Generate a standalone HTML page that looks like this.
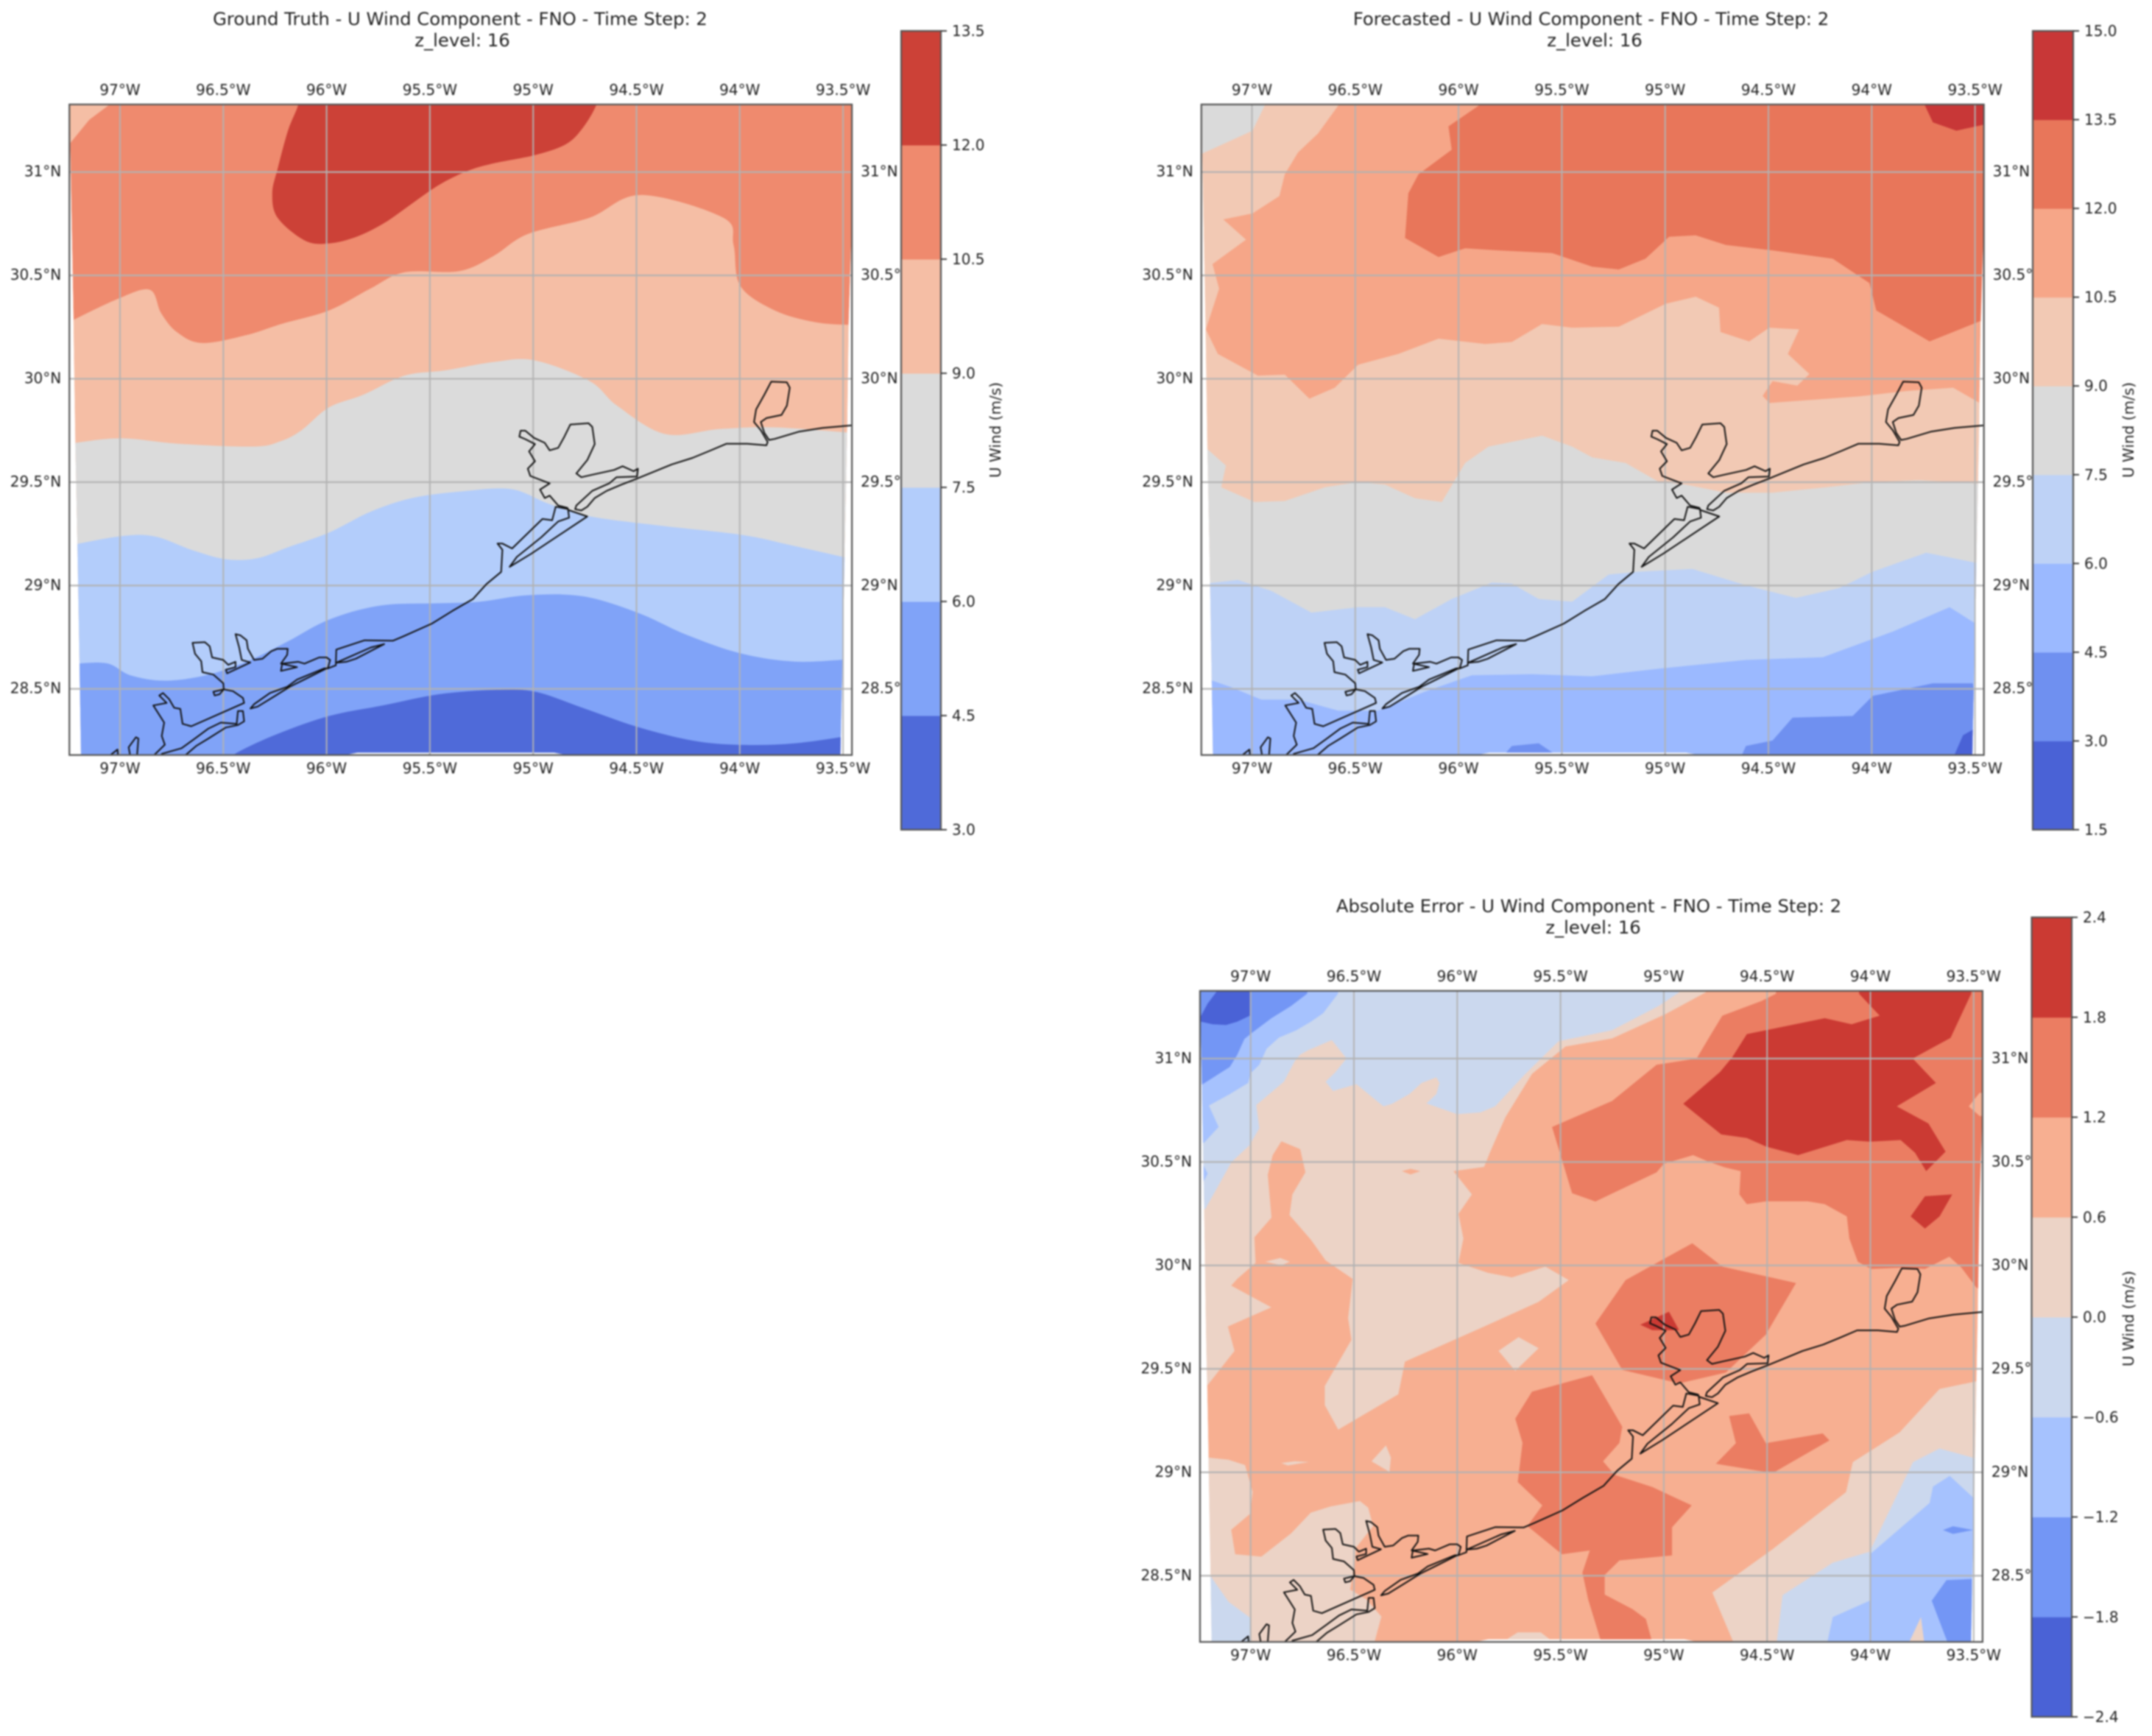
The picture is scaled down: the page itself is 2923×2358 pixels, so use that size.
<!DOCTYPE html>
<html lang="en">
<head>
<meta charset="utf-8">
<title>U Wind Component - FNO - Time Step 2</title>
<style>
html,body{margin:0;padding:0;background:#fff;}
#figure{display:block;width:2923px;height:2358px;filter:blur(1.15px);}
text{font-family:"DejaVu Sans","Liberation Sans",sans-serif;fill:#222222;}
.tick{font-size:20px;}
.title{font-size:24.3px;text-anchor:middle;}
</style>
</head>
<body>
<svg id="figure" xmlns="http://www.w3.org/2000/svg" width="2923" height="2358" viewBox="0 0 2923 2358">
<rect x="0" y="0" width="2923" height="2358" fill="#ffffff"/>
<text class="title" x="625" y="34">Ground Truth - U Wind Component - FNO - Time Step: 2</text>
<text class="title" x="628" y="63">z_level: 16</text>
<text class="title" x="2161" y="34">Forecasted - U Wind Component - FNO - Time Step: 2</text>
<text class="title" x="2166" y="63">z_level: 16</text>
<text class="title" x="2158" y="1239">Absolute Error - U Wind Component - FNO - Time Step: 2</text>
<text class="title" x="2164" y="1268">z_level: 16</text>
</svg>
<script>
// ---------- shared axis values ----------
const lonTicks = [-97, -96.5, -96, -95.5, -95, -94.5, -94, -93.5];
const lonTickLabels = ['97°W', '96.5°W', '96°W', '95.5°W', '95°W', '94.5°W', '94°W', '93.5°W'];
const latTicks = [31, 30.5, 30, 29.5, 29, 28.5];
const latTickLabels = ['31°N', '30.5°N', '30°N', '29.5°N', '29°N', '28.5°N'];
const latTickLabelsRight = ['31°N', '30.5°', '30°N', '29.5°', '29°N', '28.5°'];
const colorbarTitle = 'U Wind (m/s)';

// data domain outline (lon, lat)
const domainOutline = [[-97.245,31.33],[-93.456,31.33],[-93.456,30.8],[-93.473,30.26],[-93.48,29.77],[-93.493,29.12],[-93.503,28.64],[-93.513,28.183],[-94.85,28.183],[-94.9,28.192],[-95.85,28.192],[-95.9,28.183],[-97.189,28.183],[-97.196,28.62],[-97.206,29.19],[-97.216,29.68],[-97.225,30.27]];

// ---------- coastline (lon, lat) ----------
const coastMain = [[-93.456,29.775],[-93.599,29.762],[-93.715,29.744],[-93.831,29.709],[-93.858,29.704],[-93.881,29.738],[-93.898,29.791],[-93.871,29.81],[-93.798,29.825],[-93.772,29.87],[-93.758,29.957],[-93.772,29.983],[-93.848,29.986],[-93.881,29.923],[-93.921,29.852],[-93.931,29.791],[-93.898,29.751],[-93.865,29.694],[-93.871,29.678],[-93.964,29.686],[-94.064,29.686],[-94.147,29.651],[-94.229,29.617],[-94.329,29.586],[-94.385,29.563],[-94.503,29.515],[-94.573,29.488],[-94.644,29.458],[-94.702,29.423],[-94.738,29.381],[-94.767,29.363],[-94.797,29.369],[-94.791,29.387],[-94.714,29.458],[-94.632,29.494],[-94.597,29.524],[-94.497,29.527],[-94.493,29.565],[-94.514,29.553],[-94.567,29.577],[-94.608,29.559],[-94.714,29.536],[-94.767,29.524],[-94.791,29.542],[-94.738,29.607],[-94.702,29.684],[-94.714,29.767],[-94.732,29.785],[-94.82,29.779],[-94.849,29.72],[-94.879,29.666],[-94.92,29.654],[-94.944,29.69],[-94.996,29.714],[-95.038,29.749],[-95.061,29.749],[-95.067,29.72],[-95.038,29.708],[-94.991,29.684],[-95.02,29.649],[-94.991,29.601],[-95.026,29.565],[-95.014,29.53],[-94.92,29.494],[-94.967,29.464],[-94.944,29.423],[-94.92,29.435],[-94.879,29.387],[-94.832,29.375]];
const coastGalveston = [[-94.832,29.375],[-94.826,29.328],[-94.879,29.31],[-94.961,29.233],[-95.079,29.138],[-95.114,29.09],[-95.008,29.155],[-94.738,29.334],[-94.832,29.366]];
const coastWest = [[-94.832,29.37],[-94.891,29.381],[-94.908,29.316],[-94.955,29.322],[-95.102,29.179],[-95.149,29.203],[-95.173,29.203],[-95.149,29.173],[-95.155,29.066],[-95.226,29.007],[-95.291,28.935],[-95.391,28.877],[-95.49,28.816],[-95.631,28.753],[-95.679,28.733],[-95.816,28.735],[-95.953,28.69],[-95.955,28.626],[-95.955,28.614],[-95.994,28.599],[-95.983,28.64],[-96.0,28.652],[-96.036,28.652],[-96.107,28.622],[-96.137,28.631],[-96.215,28.622],[-96.221,28.587],[-96.143,28.605],[-96.221,28.622],[-96.191,28.664],[-96.188,28.694],[-96.238,28.694],[-96.268,28.682],[-96.31,28.646],[-96.351,28.64],[-96.381,28.694],[-96.387,28.735],[-96.417,28.759],[-96.441,28.765],[-96.423,28.7],[-96.411,28.64],[-96.369,28.628],[-96.482,28.575],[-96.488,28.593],[-96.441,28.605],[-96.441,28.631],[-96.476,28.616],[-96.5,28.64],[-96.554,28.652],[-96.566,28.706],[-96.589,28.726],[-96.649,28.723],[-96.637,28.67],[-96.607,28.634],[-96.601,28.581],[-96.548,28.569],[-96.5,28.527],[-96.498,28.498],[-96.548,28.486],[-96.542,28.468],[-96.518,28.474],[-96.498,28.498],[-96.453,28.489],[-96.405,28.456],[-96.399,28.432],[-96.655,28.319],[-96.697,28.331],[-96.708,28.403],[-96.738,28.409],[-96.762,28.45],[-96.792,28.48],[-96.81,28.468],[-96.774,28.432],[-96.839,28.42],[-96.786,28.337],[-96.798,28.272],[-96.783,28.23],[-96.845,28.17]];
const coastMatagordaLens = [[-95.955,28.626],[-95.905,28.631],[-95.858,28.646],[-95.721,28.717],[-95.786,28.7],[-95.923,28.64],[-95.955,28.626]];
const coastIslandLens = [[-95.994,28.599],[-96.012,28.599],[-96.143,28.545],[-96.191,28.51],[-96.274,28.48],[-96.351,28.426],[-96.369,28.405],[-96.334,28.414],[-96.256,28.462],[-96.179,28.51],[-96.084,28.557],[-96.0,28.599]];
const coastSanJose = [[-96.798,28.17],[-96.798,28.186],[-96.702,28.213],[-96.637,28.26],[-96.572,28.308],[-96.512,28.337],[-96.435,28.331],[-96.429,28.393],[-96.405,28.393],[-96.399,28.343],[-96.429,28.325],[-96.488,28.313],[-96.572,28.26],[-96.631,28.224],[-96.679,28.183],[-96.7,28.17]];
const coastIslet = [[-96.952,28.17],[-96.952,28.183],[-96.958,28.218],[-96.923,28.266],[-96.911,28.26],[-96.917,28.183],[-96.917,28.17]];
const coastTip = [[-97.042,28.17],[-97.042,28.183],[-97.012,28.207],[-97.01,28.183],[-97.01,28.17]];
const coastLines = [coastMain, coastGalveston, coastWest, coastMatagordaLens, coastIslandLens, coastSanJose, coastIslet, coastTip];

// ---------- ground truth ----------
const gtLevels = [3.0, 4.5, 6.0, 7.5, 9.0, 10.5, 12.0, 13.5];
const gtLevelLabels = ['3.0','4.5','6.0','7.5','9.0','10.5','12.0','13.5'];
const gtColors = ['#4f6ad9','#80a3f8','#b3cdfb','#dbdbdb','#f5bea5','#ef8a6e','#cc4137'];
const gtCorner = [[-97.3,31.4],[-97.05,31.4],[-97.05,31.327],[-97.149,31.253],[-97.246,31.134],[-97.3,31.1]];
const gtPeak = [[-96.137,31.4],[-96.137,31.327],[-96.187,31.2],[-96.237,31.016],[-96.263,30.897],[-96.237,30.779],[-96.104,30.668],[-95.988,30.655],[-95.855,30.687],[-95.723,30.752],[-95.59,30.845],[-95.457,30.937],[-95.324,31.003],[-95.192,31.042],[-94.993,31.082],[-94.843,31.134],[-94.76,31.213],[-94.694,31.327],[-94.694,31.4]];
const gtContour105 = [[-97.249,30.273],[-97.017,30.384],[-96.857,30.431],[-96.801,30.318],[-96.725,30.226],[-96.602,30.173],[-96.386,30.212],[-96.22,30.265],[-95.988,30.331],[-95.789,30.436],[-95.623,30.515],[-95.358,30.521],[-95.192,30.594],[-95.026,30.7],[-94.727,30.779],[-94.478,30.889],[-94.08,30.779],[-94.03,30.647],[-93.997,30.449],[-93.831,30.331],[-93.632,30.273],[-93.45,30.26]];
const gtContour90 = [[-97.249,29.686],[-97.0,29.712],[-96.718,29.686],[-96.353,29.672],[-96.22,29.699],[-96.121,29.751],[-95.988,29.862],[-95.822,29.923],[-95.623,30.015],[-95.424,30.041],[-95.192,30.081],[-94.993,30.089],[-94.727,29.989],[-94.594,29.87],[-94.362,29.733],[-94.097,29.757],[-93.831,29.765],[-93.45,29.738]];
const gtContour75 = [[-97.249,29.193],[-97.0,29.238],[-96.834,29.238],[-96.652,29.172],[-96.486,29.127],[-96.336,29.132],[-96.187,29.185],[-95.988,29.256],[-95.789,29.356],[-95.59,29.422],[-95.358,29.454],[-95.109,29.467],[-94.926,29.396],[-94.727,29.335],[-94.395,29.291],[-93.997,29.246],[-93.765,29.198],[-93.45,29.127]];
const gtContour60 = [[-97.249,28.619],[-97.066,28.624],[-96.95,28.566],[-96.784,28.54],[-96.585,28.566],[-96.386,28.632],[-96.187,28.73],[-95.988,28.835],[-95.739,28.903],[-95.457,28.914],[-95.258,28.922],[-95.026,28.953],[-94.76,28.948],[-94.495,28.869],[-94.263,28.764],[-93.997,28.672],[-93.732,28.632],[-93.45,28.645]];
const gtContour45 = [[-96.5,28.12],[-96.453,28.18],[-96.253,28.276],[-95.988,28.369],[-95.723,28.421],[-95.457,28.474],[-95.192,28.495],[-94.993,28.487],[-94.76,28.408],[-94.495,28.316],[-94.229,28.25],[-93.997,28.229],[-93.732,28.237],[-93.45,28.276]];
const gtBaseBand = 5;

// ---------- forecast ----------
const fcLevels = [1.5, 3.0, 4.5, 6.0, 7.5, 9.0, 10.5, 12.0, 13.5, 15.0];
const fcLevelLabels = ['1.5','3.0','4.5','6.0','7.5','9.0','10.5','12.0','13.5','15.0'];
const fcColors = ['#4a62d6','#6f90f0','#9bb9ff','#bed2f6','#dadada','#f2c9b4','#f6a688','#e8765a','#c83737'];
const fcContour90Upper = [[-96.583,31.4],[-96.583,31.321],[-96.68,31.187],[-96.777,31.095],[-96.841,30.989],[-96.867,30.884],[-96.997,30.8],[-97.139,30.771],[-97.029,30.673],[-97.191,30.555],[-97.159,30.436],[-97.223,30.239],[-97.165,30.12],[-96.971,30.015],[-96.841,30.02],[-96.722,29.904],[-96.599,29.957],[-96.486,30.068],[-96.292,30.12],[-96.097,30.194],[-95.871,30.168],[-95.742,30.178],[-95.596,30.265],[-95.45,30.247],[-95.224,30.252],[-94.998,30.363],[-94.852,30.397],[-94.739,30.344],[-94.732,30.226],[-94.593,30.181],[-94.496,30.247],[-94.351,30.239],[-94.406,30.12],[-94.302,30.023],[-94.36,29.967],[-94.48,29.989],[-94.528,29.917],[-94.496,29.883],[-94.059,29.915],[-93.833,29.941],[-93.606,29.957],[-93.477,29.883],[-93.4,29.883],[-93.4,28.0],[-97.5,28.0],[-97.5,31.4]];
const fcGrayCorner = [[-97.3,31.4],[-96.939,31.4],[-96.939,31.321],[-96.997,31.2],[-97.246,31.087],[-97.3,31.06]];
const fcContour90Lower = [[-97.3,29.672],[-97.23,29.672],[-97.126,29.58],[-97.149,29.475],[-96.987,29.404],[-96.841,29.409],[-96.647,29.475],[-96.486,29.501],[-96.356,29.488],[-96.211,29.422],[-96.081,29.404],[-95.968,29.593],[-95.855,29.672],[-95.596,29.725],[-95.45,29.672],[-95.353,29.62],[-95.192,29.593],[-95.03,29.501],[-94.9,29.488],[-94.706,29.449],[-94.48,29.449],[-94.221,29.475],[-93.995,29.501],[-93.768,29.509],[-93.477,29.493],[-93.4,29.493]];
const fcContour75 = [[-97.3,29.009],[-97.23,29.009],[-97.068,29.027],[-96.906,28.974],[-96.712,28.869],[-96.486,28.895],[-96.356,28.895],[-96.211,28.837],[-96.033,28.935],[-95.839,29.014],[-95.742,29.009],[-95.612,28.935],[-95.45,28.922],[-95.273,29.053],[-95.127,29.067],[-94.868,29.08],[-94.609,29.001],[-94.367,28.94],[-94.156,28.988],[-93.995,29.067],[-93.736,29.159],[-93.477,29.106],[-93.4,29.106]];
const fcContour60 = [[-97.3,28.553],[-97.23,28.553],[-97.1,28.508],[-96.955,28.448],[-96.777,28.448],[-96.583,28.395],[-96.389,28.395],[-96.162,28.487],[-95.936,28.566],[-95.645,28.571],[-95.353,28.561],[-95.03,28.598],[-94.609,28.64],[-94.237,28.653],[-93.898,28.777],[-93.623,28.895],[-93.477,28.803],[-93.4,28.803]];
const fcPatch45East = [[-94.642,28.15],[-94.609,28.224],[-94.48,28.25],[-94.383,28.361],[-94.092,28.369],[-93.995,28.466],[-93.704,28.527],[-93.51,28.527],[-93.445,28.145]];
const fcPatch45South = [[-95.806,28.15],[-95.742,28.224],[-95.612,28.237],[-95.483,28.15]];
const fcPatch30 = [[-93.613,28.15],[-93.558,28.276],[-93.51,28.303],[-93.51,28.15]];
const fcPatch12 = [[-95.903,31.4],[-95.903,31.321],[-96.049,31.221],[-96.033,31.108],[-96.194,30.989],[-96.243,30.897],[-96.259,30.681],[-96.097,30.589],[-95.968,30.631],[-95.806,30.621],[-95.547,30.608],[-95.353,30.542],[-95.224,30.529],[-95.095,30.581],[-94.981,30.687],[-94.852,30.694],[-94.706,30.647],[-94.48,30.621],[-94.189,30.581],[-94.011,30.463],[-93.978,30.331],[-93.72,30.181],[-93.477,30.278],[-93.4,30.29],[-93.4,31.4]];
const fcPatch135 = [[-93.742,31.4],[-93.742,31.321],[-93.704,31.24],[-93.59,31.2],[-93.445,31.232],[-93.4,31.24],[-93.4,31.4]];
const fcBaseBand = 6;

// ---------- absolute error ----------
const aeLevels = [-2.4, -1.8, -1.2, -0.6, 0.0, 0.6, 1.2, 1.8, 2.4];
const aeLevelLabels = ['−2.4','−1.8','−1.2','−0.6','0.0','0.6','1.2','1.8','2.4'];
const aeColors = ['#4a62d6','#7396f5','#a6c2fe','#cbd8ee','#ecd3c6','#f7af91','#eb7d62','#cb3a33'];
const aeLightWest = [[-97.3,31.4],[-94.797,31.4],[-94.797,31.32],[-94.991,31.215],[-95.25,31.097],[-95.476,31.058],[-95.638,30.926],[-95.767,30.716],[-95.84,30.55],[-95.87,30.476],[-96.018,30.456],[-95.929,30.343],[-95.994,30.249],[-95.97,30.13],[-95.994,30.012],[-95.851,29.964],[-95.735,29.942],[-95.573,29.994],[-95.46,29.929],[-95.606,29.824],[-95.897,29.692],[-96.253,29.535],[-96.285,29.377],[-96.576,29.206],[-96.641,29.325],[-96.641,29.417],[-96.512,29.64],[-96.528,29.745],[-96.506,29.935],[-96.637,30.024],[-96.708,30.124],[-96.812,30.243],[-96.798,30.343],[-96.735,30.45],[-96.76,30.562],[-96.851,30.6],[-96.893,30.533],[-96.917,30.438],[-96.899,30.231],[-96.982,30.136],[-96.976,30.012],[-97.065,29.935],[-97.094,29.902],[-96.9,29.797],[-97.11,29.705],[-97.078,29.587],[-97.223,29.403],[-97.3,29.403]];
const aeLightSouthwest = [[-97.3,29.071],[-97.207,29.071],[-97.107,29.061],[-97.027,29.035],[-96.99,28.905],[-97.003,28.799],[-97.094,28.722],[-97.075,28.604],[-96.948,28.592],[-96.804,28.705],[-96.709,28.805],[-96.614,28.835],[-96.471,28.861],[-96.431,28.829],[-96.407,28.74],[-96.491,28.634],[-96.494,28.58],[-96.518,28.433],[-96.439,28.385],[-96.367,28.303],[-96.399,28.184],[-96.399,28.15],[-97.3,28.15]];
const aeNegSouthwest = [[-97.3,28.5],[-97.194,28.498],[-97.107,28.374],[-97.003,28.297],[-97.003,28.15],[-97.3,28.15]];
const aeLightA = [[-95.8,29.587],[-95.703,29.653],[-95.606,29.6],[-95.719,29.49]];
const aeLightB = [[-96.415,29.053],[-96.345,29.13],[-96.321,29.071],[-96.328,29.002]];
const aeLightC = [[-96.929,30.018],[-96.857,30.036],[-96.81,30.018],[-96.851,30.0]];
const aeLightD = [[-96.852,29.045],[-96.789,29.053],[-96.717,29.05],[-96.82,29.033]];
const aeOrangeSpeck = [[-96.268,30.456],[-96.226,30.467],[-96.179,30.456],[-96.226,30.44]];
const aeLightF = [[-95.76,28.15],[-95.755,28.196],[-95.707,28.226],[-95.596,28.226],[-95.548,28.19],[-95.54,28.15]];
const aeLightSoutheast = [[-93.471,29.443],[-93.665,29.403],[-93.859,29.193],[-94.085,29.049],[-94.118,28.904],[-94.473,28.629],[-94.765,28.419],[-94.651,28.15],[-93.4,28.15],[-93.4,29.443]];
const aeNegSoutheast = [[-94.457,28.15],[-94.425,28.406],[-94.182,28.563],[-94.004,28.616],[-93.794,29.049],[-93.665,29.115],[-93.471,29.062],[-93.4,29.062],[-93.4,28.15]];
const aeMidSoutheast = [[-94.215,28.15],[-94.182,28.3],[-94.004,28.379],[-94.004,28.602],[-93.713,28.852],[-93.697,28.931],[-93.616,28.983],[-93.503,28.878],[-93.45,28.85],[-93.45,28.15]];
const aeLightWedge = [[-93.826,28.15],[-93.755,28.3],[-93.736,28.15]];
const aeDeepSoutheast = [[-93.703,28.379],[-93.632,28.479],[-93.509,28.484],[-93.509,28.15],[-93.616,28.15]];
const aeDeepBlob = [[-93.649,28.721],[-93.6,28.739],[-93.503,28.721],[-93.6,28.702]];
const aeNegNorthwest = [[-97.3,30.272],[-97.22,30.272],[-97.101,30.485],[-97.089,30.503],[-97.006,30.58],[-96.958,30.663],[-96.973,30.775],[-96.839,30.888],[-96.786,30.988],[-96.762,31.018],[-96.72,31.041],[-96.607,31.089],[-96.536,31.0],[-96.589,30.935],[-96.637,30.888],[-96.601,30.843],[-96.488,30.876],[-96.357,30.769],[-96.315,30.781],[-96.232,30.828],[-96.173,30.882],[-96.101,30.909],[-96.086,30.882],[-96.101,30.828],[-96.149,30.783],[-96.0,30.731],[-95.887,30.74],[-95.816,30.769],[-95.67,30.926],[-95.509,31.084],[-95.25,31.137],[-95.023,31.255],[-94.926,31.32],[-94.926,31.4],[-97.3,31.4]];
const aeMidNorthwest = [[-96.577,31.4],[-96.577,31.314],[-96.649,31.219],[-96.708,31.178],[-96.78,31.136],[-96.863,31.101],[-96.923,31.047],[-96.958,30.97],[-97.0,30.929],[-97.012,30.882],[-97.101,30.828],[-97.202,30.773],[-97.155,30.669],[-97.226,30.592],[-97.3,30.592],[-97.3,31.4]];
const aeMidEdge = [[-97.232,30.491],[-97.208,30.444],[-97.226,30.408],[-97.3,30.408],[-97.3,30.491]];
const aeDeepNorthwest = [[-96.726,31.4],[-96.726,31.314],[-96.804,31.254],[-96.899,31.195],[-96.994,31.124],[-97.03,31.095],[-97.065,31.018],[-97.101,30.959],[-97.232,30.876],[-97.3,30.85],[-97.3,31.4]];
const aeDarkNorthwest = [[-97.3,31.2],[-97.24,31.207],[-97.208,31.266],[-97.167,31.32],[-97.167,31.4],[-97.004,31.4],[-97.004,31.207],[-97.065,31.178],[-97.119,31.162],[-97.185,31.166],[-97.24,31.178],[-97.3,31.178]];
const aeHighNortheast = [[-94.457,31.4],[-94.457,31.313],[-94.528,31.278],[-94.717,31.207],[-94.782,31.1],[-94.841,31.0],[-95.035,30.97],[-95.25,30.795],[-95.541,30.669],[-95.444,30.349],[-95.331,30.309],[-95.035,30.45],[-95.0,30.491],[-94.858,30.533],[-94.787,30.503],[-94.705,30.474],[-94.628,30.456],[-94.634,30.343],[-94.598,30.296],[-94.504,30.31],[-94.303,30.31],[-94.221,30.296],[-94.114,30.237],[-94.102,30.13],[-94.061,30.018],[-93.996,29.983],[-93.854,29.989],[-93.736,29.983],[-93.618,30.042],[-93.559,29.989],[-93.488,29.894],[-93.4,29.85],[-93.4,31.4]];
const aeNotchEast = [[-93.471,30.834],[-93.524,30.769],[-93.471,30.722],[-93.4,30.722],[-93.4,30.834]];
const aePeakNortheast = [[-94.055,31.4],[-94.055,31.313],[-93.955,31.207],[-94.091,31.166],[-94.221,31.195],[-94.598,31.118],[-94.669,31.006],[-94.728,30.935],[-94.906,30.781],[-94.722,30.633],[-94.598,30.616],[-94.504,30.574],[-94.35,30.533],[-94.114,30.606],[-94.002,30.598],[-93.854,30.606],[-93.784,30.545],[-93.73,30.456],[-93.636,30.55],[-93.719,30.686],[-93.872,30.769],[-93.683,30.882],[-93.795,31.0],[-93.612,31.1],[-93.512,31.313],[-93.512,31.4]];
const aePeakEast = [[-93.736,30.334],[-93.604,30.343],[-93.665,30.237],[-93.736,30.178],[-93.805,30.237]];
const aeHighCentral = [[-95.331,29.719],[-95.185,29.929],[-94.862,30.107],[-94.716,29.994],[-94.36,29.915],[-94.506,29.666],[-94.7,29.482],[-94.926,29.43],[-95.201,29.495]];
const aePeakBay = [[-95.114,29.713],[-94.975,29.776],[-94.926,29.687],[-95.056,29.687]];
const aeHighSouth = [[-95.719,29.259],[-95.638,29.39],[-95.347,29.469],[-95.201,29.22],[-95.215,29.142],[-95.294,29.053],[-95.238,28.988],[-95.056,28.929],[-94.865,28.84],[-94.96,28.734],[-94.96,28.598],[-95.215,28.574],[-95.286,28.504],[-95.286,28.409],[-95.151,28.338],[-95.087,28.291],[-95.048,28.15],[-95.294,28.15],[-95.366,28.385],[-95.394,28.515],[-95.358,28.622],[-95.493,28.604],[-95.66,28.74],[-95.588,28.84],[-95.707,28.953],[-95.684,29.142]];
const aeHighEast = [[-94.684,29.272],[-94.587,29.285],[-94.506,29.141],[-94.231,29.188],[-94.198,29.154],[-94.473,28.996],[-94.748,29.041],[-94.651,29.141]];
const aeBaseBand = 5;

// band index + outline per layer, in painting order
const gtLayers = [
  {band: 4, line: gtCorner},
  {band: 4, line: gtContour105, below: true, smooth: true},
  {band: 3, line: gtContour90, below: true, smooth: true},
  {band: 2, line: gtContour75, below: true, smooth: true},
  {band: 1, line: gtContour60, below: true, smooth: true},
  {band: 0, line: gtContour45, below: true, smooth: true},
  {band: 6, line: gtPeak, smooth: true}
];
const fcLayers = [
  {band: 5, line: fcContour90Upper},
  {band: 4, line: fcGrayCorner},
  {band: 7, line: fcPatch12},
  {band: 8, line: fcPatch135},
  {band: 4, line: fcContour90Lower, below: true},
  {band: 3, line: fcContour75, below: true},
  {band: 2, line: fcContour60, below: true},
  {band: 1, line: fcPatch45East},
  {band: 1, line: fcPatch45South},
  {band: 0, line: fcPatch30}
];
const aeLayers = [
  {band: 4, line: aeLightWest},
  {band: 4, line: aeLightSouthwest},
  {band: 3, line: aeNegSouthwest},
  {band: 4, line: aeLightA},
  {band: 4, line: aeLightB},
  {band: 5, line: aeLightC},
  {band: 4, line: aeLightC},
  {band: 4, line: aeLightD},
  {band: 5, line: aeOrangeSpeck},
  {band: 4, line: aeLightF},
  {band: 4, line: aeLightSoutheast},
  {band: 3, line: aeNegSoutheast},
  {band: 2, line: aeMidSoutheast},
  {band: 4, line: aeLightWedge},
  {band: 1, line: aeDeepSoutheast},
  {band: 1, line: aeDeepBlob},
  {band: 3, line: aeNegNorthwest},
  {band: 2, line: aeMidNorthwest},
  {band: 2, line: aeMidEdge},
  {band: 1, line: aeDeepNorthwest},
  {band: 0, line: aeDarkNorthwest},
  {band: 6, line: aeHighNortheast},
  {band: 5, line: aeNotchEast},
  {band: 7, line: aePeakNortheast},
  {band: 7, line: aePeakEast},
  {band: 6, line: aeHighCentral},
  {band: 7, line: aePeakBay},
  {band: 6, line: aeHighSouth},
  {band: 6, line: aeHighEast}
];

// ---------- figure layout ----------
const NS = 'http://www.w3.org/2000/svg';
const figure = document.getElementById('figure');
const lonMin = -97.245, lonMax = -93.457, latMax = 31.327, latMin = 28.18;

function node(tag, parent){
  const n = document.createElementNS(NS, tag);
  parent.appendChild(n);
  return n;
}
function pointsAttr(pts, sx, sy){
  return pts.map(function(p){ return sx(p[0]).toFixed(1) + ',' + sy(p[1]).toFixed(1); }).join(' ');
}
function layerPath(layer, sx, sy){
  const p = layer.line.map(function(q){ return [sx(q[0]), sy(q[1])]; });
  let d = 'M' + p[0][0].toFixed(1) + ' ' + p[0][1].toFixed(1);
  for (let i = 0; i < p.length - 1; i++){
    if (layer.smooth){
      const a = p[Math.max(i - 1, 0)], b = p[i], c = p[i + 1], e = p[Math.min(i + 2, p.length - 1)];
      const c1x = b[0] + (c[0] - a[0]) / 6, c1y = b[1] + (c[1] - a[1]) / 6;
      const c2x = c[0] - (e[0] - b[0]) / 6, c2y = c[1] - (e[1] - b[1]) / 6;
      d += 'C' + c1x.toFixed(1) + ' ' + c1y.toFixed(1) + ' ' + c2x.toFixed(1) + ' ' + c2y.toFixed(1) + ' ' + c[0].toFixed(1) + ' ' + c[1].toFixed(1);
    } else {
      d += 'L' + p[i + 1][0].toFixed(1) + ' ' + p[i + 1][1].toFixed(1);
    }
  }
  if (layer.below){
    d += 'L' + sx(-93.3).toFixed(1) + ' ' + p[p.length - 1][1].toFixed(1);
    d += 'L' + sx(-93.3).toFixed(1) + ' ' + sy(28.0).toFixed(1);
    d += 'L' + sx(-97.5).toFixed(1) + ' ' + sy(28.0).toFixed(1);
    d += 'L' + sx(-97.5).toFixed(1) + ' ' + p[0][1].toFixed(1);
  }
  return d + 'Z';
}

function drawPanel(cfg){
  const sx = function(lon){ return cfg.x97 + (lon + 97) * cfg.pxPerLon; };
  const sy = function(lat){ return cfg.y31 + (31 - lat) * cfg.pxPerLat; };

  const group = node('g', figure);
  
  

  const defs = node('defs', group);
  const clipDomain = node('clipPath', defs);
  clipDomain.setAttribute('id', cfg.name + '-domain-clip');
  const clipDomainShape = node('polygon', clipDomain);
  clipDomainShape.setAttribute('points', pointsAttr(domainOutline, sx, sy));
  const clipAxes = node('clipPath', defs);
  clipAxes.setAttribute('id', cfg.name + '-axes-clip');
  const clipAxesShape = node('rect', clipAxes);
  clipAxesShape.setAttribute('x', sx(lonMin));
  clipAxesShape.setAttribute('y', sy(latMax));
  clipAxesShape.setAttribute('width', sx(lonMax) - sx(lonMin));
  clipAxesShape.setAttribute('height', sy(latMin) - sy(latMax));

  const field = node('g', group);
  field.setAttribute('clip-path', 'url(#' + cfg.name + '-domain-clip)');
  
  

  const base = node('polygon', field);
  base.setAttribute('points', pointsAttr(domainOutline, sx, sy));
  base.setAttribute('fill', cfg.colors[cfg.baseBand]);
  
  

  cfg.layers.forEach(function(layer){
    const shape = node('path', field);
    shape.setAttribute('d', layerPath(layer, sx, sy));
    shape.setAttribute('fill', cfg.colors[layer.band]);
    
    
  });

  const grid = node('g', group);
  
  
  lonTicks.forEach(function(lon){
    const line = node('line', grid);
    line.setAttribute('x1', sx(lon));
    line.setAttribute('x2', sx(lon));
    line.setAttribute('y1', sy(latMax));
    line.setAttribute('y2', sy(latMin));
    line.setAttribute('stroke', '#b2b2b2');
    line.setAttribute('stroke-width', '1.9');
    
    
  });
  latTicks.forEach(function(lat){
    const line = node('line', grid);
    line.setAttribute('x1', sx(lonMin));
    line.setAttribute('x2', sx(lonMax));
    line.setAttribute('y1', sy(lat));
    line.setAttribute('y2', sy(lat));
    line.setAttribute('stroke', '#b2b2b2');
    line.setAttribute('stroke-width', '2.1');
    
    
  });

  const coast = node('g', group);
  coast.setAttribute('clip-path', 'url(#' + cfg.name + '-axes-clip)');
  
  
  coastLines.forEach(function(pts){
    const line = node('polyline', coast);
    line.setAttribute('points', pointsAttr(pts, sx, sy));
    line.setAttribute('fill', 'none');
    line.setAttribute('stroke', '#111111');
    line.setAttribute('stroke-width', '2');
    line.setAttribute('stroke-linejoin', 'round');
    
    
  });

  const spine = node('rect', group);
  spine.setAttribute('x', sx(lonMin));
  spine.setAttribute('y', sy(latMax));
  spine.setAttribute('width', sx(lonMax) - sx(lonMin));
  spine.setAttribute('height', sy(latMin) - sy(latMax));
  spine.setAttribute('fill', 'none');
  spine.setAttribute('stroke', '#555555');
  spine.setAttribute('stroke-width', '2.2');
  
  

  lonTicks.forEach(function(lon, i){
    const top = node('text', group);
    top.setAttribute('class', 'tick');
    top.setAttribute('x', sx(lon));
    top.setAttribute('y', sy(latMax) - 13);
    top.setAttribute('text-anchor', 'middle');
    
    
    top.textContent = lonTickLabels[i];
    const bottom = node('text', group);
    bottom.setAttribute('class', 'tick');
    bottom.setAttribute('x', sx(lon));
    bottom.setAttribute('y', sy(latMin) + 25);
    bottom.setAttribute('text-anchor', 'middle');
    
    
    bottom.textContent = lonTickLabels[i];
  });
  latTicks.forEach(function(lat, i){
    const left = node('text', group);
    left.setAttribute('class', 'tick');
    left.setAttribute('x', sx(lonMin) - 11);
    left.setAttribute('y', sy(lat) + 6);
    left.setAttribute('text-anchor', 'end');
    
    
    left.textContent = latTickLabels[i];
    const right = node('text', group);
    right.setAttribute('class', 'tick');
    right.setAttribute('x', sx(lonMax) + 12);
    right.setAttribute('y', sy(lat) + 6);
    right.setAttribute('text-anchor', 'start');
    
    
    right.textContent = latTickLabelsRight[i];
  });

  // colorbar
  const first = cfg.levels[0];
  const last = cfg.levels[cfg.levels.length - 1];
  const cy = function(v){ return cfg.cbBottom - (v - first) / (last - first) * (cfg.cbBottom - cfg.cbTop); };
  const bar = node('g', group);
  
  
  cfg.colors.forEach(function(color, i){
    const seg = node('rect', bar);
    seg.setAttribute('x', cfg.cbX);
    seg.setAttribute('width', cfg.cbW);
    seg.setAttribute('y', cy(cfg.levels[i + 1]));
    seg.setAttribute('height', cy(cfg.levels[i]) - cy(cfg.levels[i + 1]) + 0.5);
    seg.setAttribute('fill', color);
    
    
  });
  const frame = node('rect', bar);
  frame.setAttribute('x', cfg.cbX);
  frame.setAttribute('y', cfg.cbTop);
  frame.setAttribute('width', cfg.cbW);
  frame.setAttribute('height', cfg.cbBottom - cfg.cbTop);
  frame.setAttribute('fill', 'none');
  frame.setAttribute('stroke', '#555555');
  frame.setAttribute('stroke-width', '2.2');
  
  
  cfg.levels.forEach(function(v, i){
    const tick = node('line', bar);
    tick.setAttribute('x1', cfg.cbX + cfg.cbW);
    tick.setAttribute('x2', cfg.cbX + cfg.cbW + 8);
    tick.setAttribute('y1', cy(v));
    tick.setAttribute('y2', cy(v));
    tick.setAttribute('stroke', '#333333');
    tick.setAttribute('stroke-width', '1.8');
    
    
    const label = node('text', bar);
    label.setAttribute('class', 'tick');
    label.setAttribute('x', cfg.cbX + cfg.cbW + 15);
    label.setAttribute('y', cy(v) + 7);
    
    
    label.textContent = cfg.levelLabels[i];
  });
  const cbTitle = node('text', bar);
  cbTitle.setAttribute('class', 'tick');
  cbTitle.setAttribute('text-anchor', 'middle');
  cbTitle.setAttribute('transform', 'translate(' + cfg.cbTitleX + ' ' + cfg.cbTitleY + ') rotate(-90)');
  
  
  cbTitle.textContent = colorbarTitle;
}

drawPanel({
  name: 'ground-truth', x97: 163, pxPerLon: 280.6, y31: 233.7, pxPerLat: 280.8,
  colors: gtColors, baseBand: gtBaseBand, levels: gtLevels, levelLabels: gtLevelLabels,
  layers: gtLayers,
  cbX: 1224, cbW: 54, cbTop: 42, cbBottom: 1127, cbTitleX: 1359, cbTitleY: 584
});
drawPanel({
  name: 'forecast', x97: 1700.5, pxPerLon: 280.6, y31: 233.7, pxPerLat: 280.8,
  colors: fcColors, baseBand: fcBaseBand, levels: fcLevels, levelLabels: fcLevelLabels,
  layers: fcLayers,
  cbX: 2761, cbW: 55, cbTop: 42, cbBottom: 1127, cbTitleX: 2898, cbTitleY: 584
});
drawPanel({
  name: 'absolute-error', x97: 1698.7, pxPerLon: 280.6, y31: 1437.8, pxPerLat: 281,
  colors: aeColors, baseBand: aeBaseBand, levels: aeLevels, levelLabels: aeLevelLabels,
  layers: aeLayers,
  cbX: 2759.5, cbW: 54.5, cbTop: 1246, cbBottom: 2332, cbTitleX: 2898, cbTitleY: 1791
});
</script>
</body>
</html>
